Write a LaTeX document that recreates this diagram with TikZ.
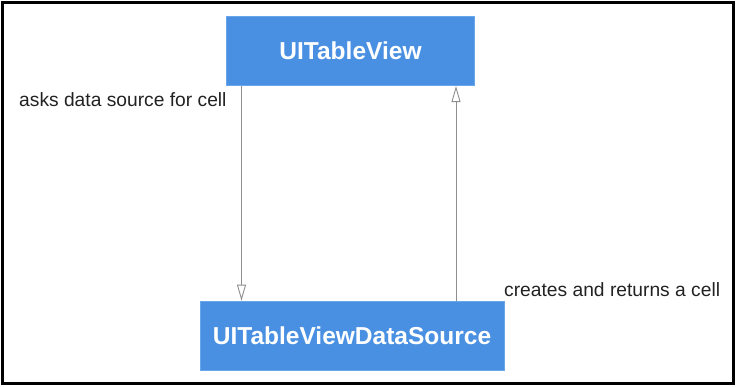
\documentclass[tikz,border=0pt]{standalone}
\usepackage{fontspec}
\setmainfont{Liberation Sans}
\usetikzlibrary{arrows.meta}
\definecolor{boxblue}{HTML}{4A90E2}
\definecolor{boxedge}{HTML}{6AA6EA}
\definecolor{arrowgray}{HTML}{8E8E8E}
\definecolor{labeltext}{HTML}{222222}
\begin{document}
\begin{tikzpicture}[x=1bp,y=-1bp,
  bluebox/.style={draw=boxedge,line width=0.6bp,fill=boxblue,text=white,font=\bfseries\fontsize{24.6}{28}\selectfont,inner sep=0pt},
  flowarrow/.style={draw=arrowgray,line width=0.9bp,-{Triangle[open,length=16bp,width=9bp]}},
  lbl/.style={text=labeltext,font=\fontsize{19.3}{22}\selectfont,inner sep=0pt}]
\useasboundingbox (0,0) rectangle (736,386);
\draw[line width=3bp] (2.6,2.6) rectangle (733.4,383.8);
\node[bluebox,minimum width=247.5bp,minimum height=69.7bp] (tv) at (350.5,50.85) {UITableView};
\node[bluebox,minimum width=304bp,minimum height=69bp] (ds) at (352,335.5) {UITableViewDataSource};
\draw[flowarrow] (tv.south -| 241.5,0) -- (ds.north -| 241.5,0);
\draw[flowarrow] (ds.north -| 456,0) -- (tv.south -| 456,0);
\node[lbl,anchor=west] (ask) at (19,100) {asks data source for cell};
\node[lbl,anchor=west] (cre) at (504,290) {creates and returns a cell};
\end{tikzpicture}
\end{document}
